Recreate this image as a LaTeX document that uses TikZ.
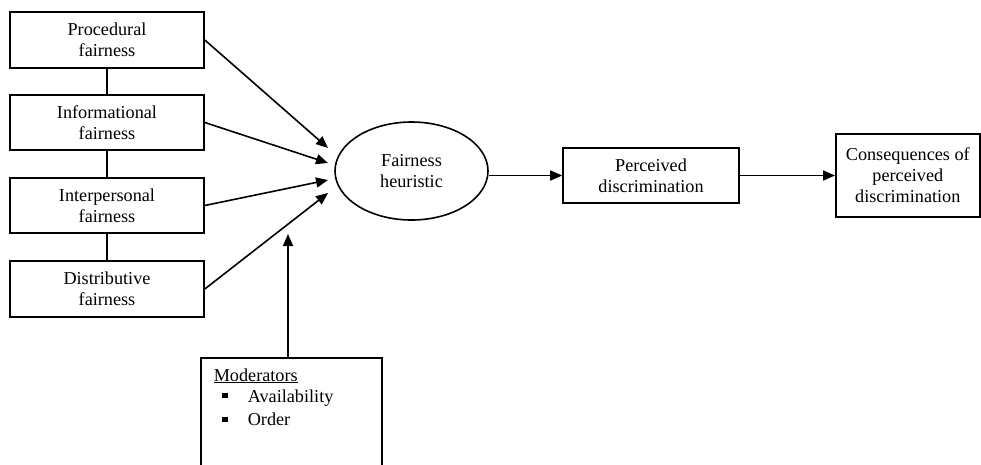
\documentclass[tikz,border=0pt]{standalone}
\usepackage{fontspec}
\setmainfont{Liberation Serif}
\usetikzlibrary{arrows.meta,shapes.geometric}
\newcommand\figfs{\fontsize{18.2}{21}\selectfont}
\begin{document}
\begin{tikzpicture}[x=1pt,y=-1pt,line width=1.6pt,
  box/.style={draw,rectangle,align=center,inner sep=0pt,font=\figfs},
  lbox/.style={box,minimum width=194pt,minimum height=56pt},
  oval/.style={draw,ellipse,align=center,inner sep=0pt,font=\figfs,minimum width=153pt,minimum height=98pt},
  txt/.style={inner sep=0pt,font=\figfs},
  bul/.style={fill=black,draw=none,inner sep=0pt,minimum width=6pt,minimum height=5pt},
  arr/.style={-{Triangle[length=12pt,width=10pt]}}]
\useasboundingbox (0,0) rectangle (981,464);
\node[lbox] (proc) at (107,40) {Procedural\\fairness};
\node[lbox,minimum height=55pt] (info) at (107,122.5) {Informational\\fairness};
\node[lbox,minimum height=55pt] (inter) at (107,205.5) {Interpersonal\\fairness};
\node[lbox] (dist) at (107,289) {Distributive\\fairness};
\node[oval] (ell) at (411.5,171) {Fairness\\heuristic};
\node[box,minimum width=176pt,minimum height=55pt] (perc) at (651,175.5) {Perceived\\discrimination};
\node[box,minimum width=144pt,minimum height=83pt] (cons) at (907.8,175.5) {Consequences of\\perceived\\discrimination};
\node[box,minimum width=181pt,minimum height=130pt] (mod) at (291.5,423) {};
\node[txt,anchor=base west] (modt) at (213,381) {\underline{Moderators}};
\node[bul] (b1) at (225,395) {};
\node[txt,anchor=base west] (avail) at (247,402) {Availability};
\node[bul] (b2) at (225,419.5) {};
\node[txt,anchor=base west] (order) at (247,425) {Order};
\coordinate (t1) at (328,148);
\coordinate (t2) at (328,163);
\coordinate (t3) at (328,180);
\coordinate (t4) at (328,193);
\coordinate (t5) at (288,234);
\draw (proc.south) -- (info.north);
\draw (info.south) -- (inter.north);
\draw (inter.south) -- (dist.north);
\draw[arr] (proc.east) -- (t1);
\draw[arr] (info.east) -- (t2);
\draw[arr] (inter.east) -- (t3);
\draw[arr] (dist.east) -- (t4);
\draw[arr] (mod.north -| t5) -- (t5);
\draw[arr] (ell.east |- perc.west) -- (perc.west);
\draw[arr] (perc.east) -- (cons.west);
\end{tikzpicture}
\end{document}
